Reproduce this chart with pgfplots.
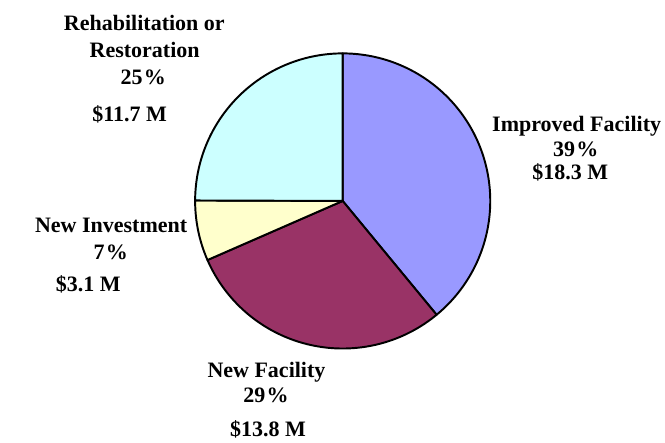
\documentclass[border=0pt]{standalone}
\usepackage{pgfplots}
\usepackage{pgfplotstable}
\pgfplotsset{compat=1.18}
\usepackage{fontspec}
\setmainfont{Liberation Serif}
\definecolor{cImp}{HTML}{9999FF}
\definecolor{cNewF}{HTML}{993366}
\definecolor{cNewI}{HTML}{FFFFCC}
\definecolor{cReh}{HTML}{CCFFFF}
\tikzset{lbl/.style={anchor=base, font=\fontsize{17}{20}\selectfont\bfseries, inner sep=0pt}}

\pgfplotstableread{
label value
Improved 18.3
NewFacility 13.8
NewInvestment 3.1
Rehab 11.7
}\piedata

\begin{document}
\pgfplotstablegetelem{0}{value}\of\piedata \let\vA\pgfplotsretval
\pgfplotstablegetelem{1}{value}\of\piedata \let\vB\pgfplotsretval
\pgfplotstablegetelem{2}{value}\of\piedata \let\vC\pgfplotsretval
\pgfplotstablegetelem{3}{value}\of\piedata \let\vD\pgfplotsretval
\pgfmathsetmacro{\tot}{\vA+\vB+\vC+\vD}
\pgfmathsetmacro{\aA}{90}
\pgfmathsetmacro{\aB}{\aA-360*\vA/\tot}
\pgfmathsetmacro{\aC}{\aB-360*\vB/\tot}
\pgfmathsetmacro{\aD}{\aC-360*\vC/\tot}
\pgfmathsetmacro{\aE}{\aD-360*\vD/\tot}
\begin{tikzpicture}
\begin{axis}[
  hide axis, scale only axis, width=228pt, height=228pt,
  xmin=-152, xmax=152, ymin=-152, ymax=152, clip=false,
  every axis plot/.append style={draw=black, line width=1.5pt, line join=round, data cs=polar, samples=150},
]
\path (axis cs:-333,-249) rectangle (axis cs:332,207);
\addplot[fill=cImp, domain=\aB:\aA] {152} -- (axis cs:0,0) -- cycle;
\addplot[fill=cNewF, domain=\aC:\aB] {152} -- (axis cs:0,0) -- cycle;
\addplot[fill=cNewI, domain=\aD:\aC] {152} -- (axis cs:0,0) -- cycle;
\addplot[fill=cReh, domain=\aE:\aD] {152} -- (axis cs:0,0) -- cycle;

\node[lbl] at (axis cs:-204.3,175.3) {Rehabilitation or};
\node[lbl] at (axis cs:-204,147.7) {Restoration};
\node[lbl] at (axis cs:-205.5,119.7) {25\kern1pt\%};
\node[lbl] at (axis cs:-219.5,82) {\$11.7 M};

\node[lbl] at (axis cs:241,71.3) {Improved Facility};
\node[lbl] at (axis cs:240,45.3) {39\kern1pt\%};
\node[lbl] at (axis cs:234.5,22) {\$18.3 M};

\node[lbl] at (axis cs:-238.5,-33) {New Investment};
\node[lbl] at (axis cs:-239,-60) {7\kern1pt\%};
\node[lbl] at (axis cs:-262,-93) {\$3.1 M};

\node[lbl] at (axis cs:-78.5,-182) {New Facility};
\node[lbl] at (axis cs:-79,-208) {29\kern1pt\%};
\node[lbl] at (axis cs:-77,-243) {\$13.8 M};
\end{axis}
\end{tikzpicture}
\end{document}
